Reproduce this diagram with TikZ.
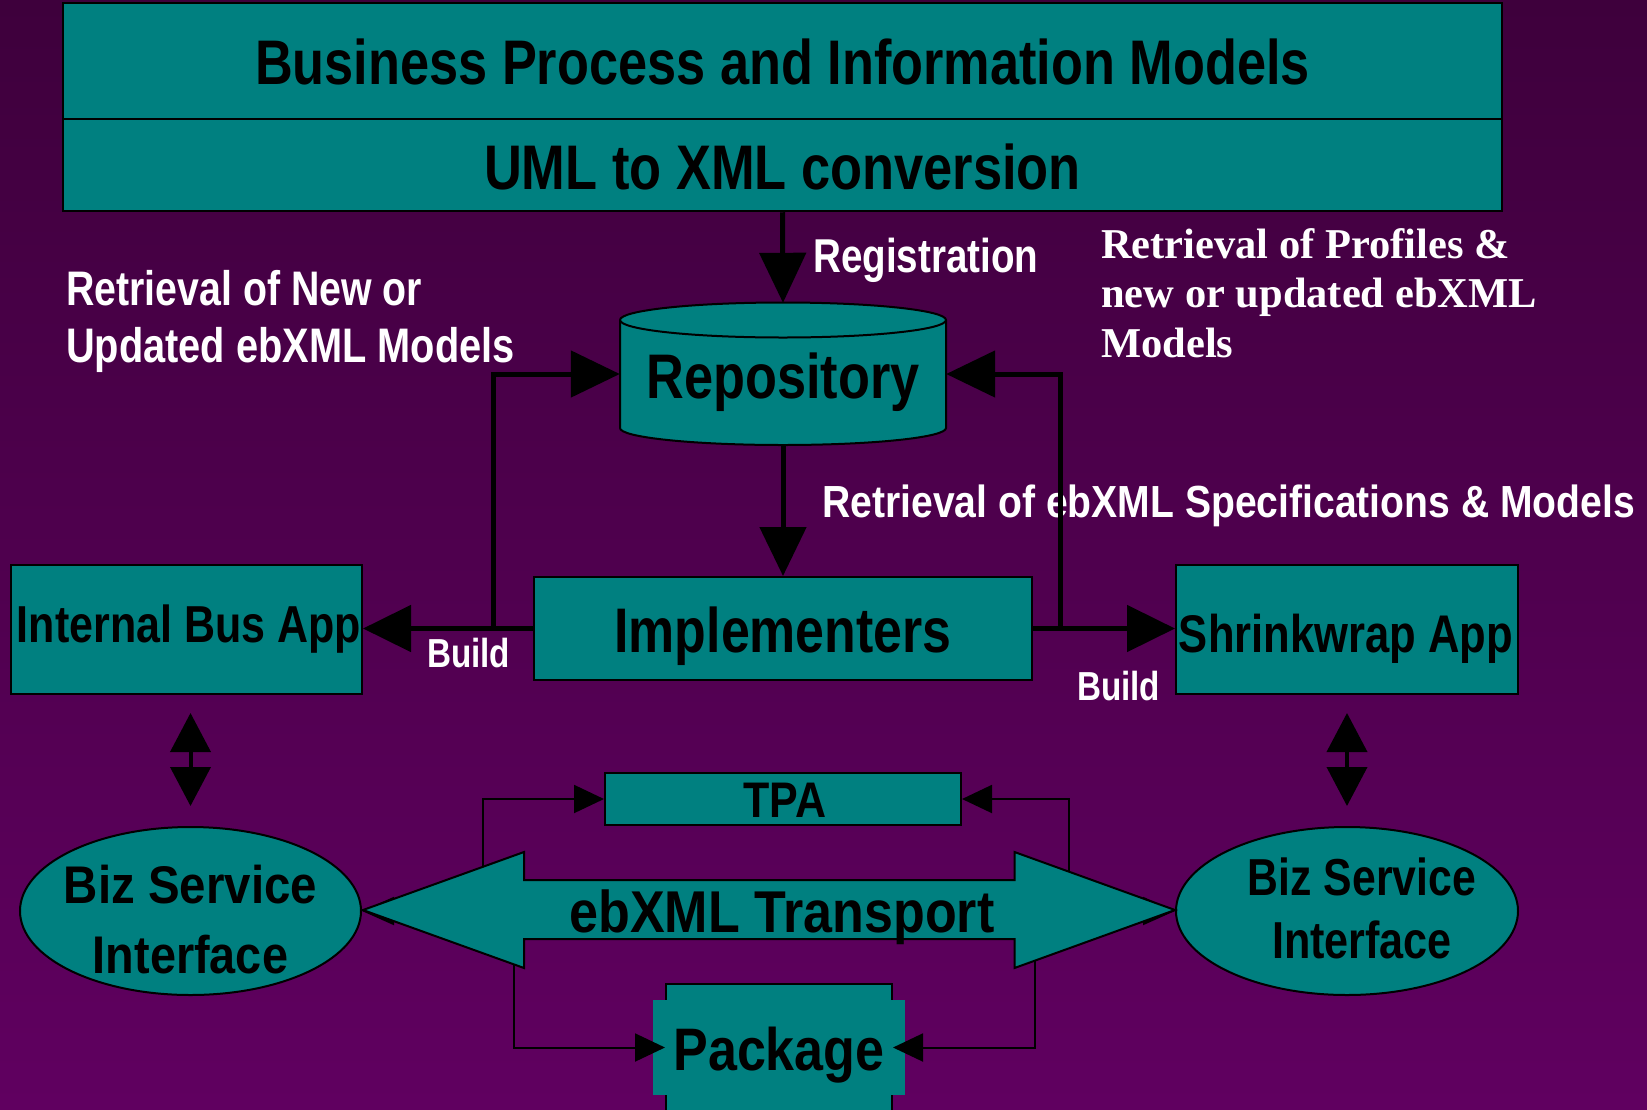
\documentclass[tikz,border=0pt]{standalone}
\usepackage{fontspec}
\setmainfont{Liberation Sans}
\newfontfamily\tms{Liberation Serif}
\usepackage{graphicx}
\usetikzlibrary{arrows.meta,shapes.geometric}
\definecolor{teal2}{RGB}{0,128,128}
\definecolor{bgtop}{RGB}{62,0,60}
\definecolor{bgbot}{RGB}{96,0,96}
% #1 x-offset of text centre, #2 baseline below node centre, #3 size, #4 horizontal scale, #5 text
\newcommand\tx[5]{\makebox[0pt]{\hspace*{#1pt}\hspace*{#1pt}\raisebox{-#2pt}[0pt][0pt]{\bfseries\fontsize{#3pt}{#3pt}\selectfont\scalebox{#4}[1]{#5}}}}
\begin{document}
\begin{tikzpicture}[x=1pt,y=-1pt,
  box/.style={draw=black, fill=teal2, line width=2pt, inner sep=0pt},
  lbl/.style={text=white, inner sep=0pt, anchor=base west, font=\bfseries},
  bigline/.style={line width=5pt, draw=black},
  thinline/.style={line width=2pt, draw=black},
  thinhead/.style={-{Triangle[width=28pt,length=30pt]}},
]
\useasboundingbox (0,0) rectangle (1647,1109);
\shade[top color=bgtop, bottom color=bgbot] (0,0) rectangle (1647,1109);

% top boxes
\node[box, line width=2.5pt, minimum width=1439pt, minimum height=116pt] (bpm) at (782.5,61) {\tx{0}{23}{63}{0.830}{Business Process and Information Models}};
\node[box, line width=2.5pt, minimum width=1439pt, minimum height=92pt] (uml) at (782.5,165) {\tx{0}{24}{63}{0.832}{UML to XML conversion}};

% repository cylinder
\filldraw[fill=teal2, draw=black, line width=2pt] (620,320) -- (620,428)
  arc[start angle=180, end angle=0, x radius=163, y radius=17] -- (946,320)
  arc[start angle=0, end angle=-180, x radius=163, y radius=17.5] -- cycle;
\draw[line width=2pt] (620,320) arc[start angle=180, end angle=0, x radius=163, y radius=17.5];
\node[inner sep=0pt, minimum width=326pt, minimum height=142pt] (repo) at (783,374) {\tx{0}{24}{63}{0.830}{Repository}};

% other boxes
\node[box, minimum width=498pt, minimum height=103pt] (impl) at (783,628.5) {\tx{0}{23.5}{63}{0.823}{Implementers}};
\node[box, minimum width=351pt, minimum height=129pt] (ibus) at (186.5,629.5) {\tx{2.5}{12.5}{52}{0.827}{Internal Bus App}};
\node[box, minimum width=342pt, minimum height=129pt] (shrink) at (1347,629.5) {\tx{-1}{22.5}{53}{0.822}{Shrinkwrap App}};
\node[box, ellipse, minimum width=341pt, minimum height=168pt] (bizL) at (190.5,911) {\makebox[0pt]{\raisebox{-62pt}[0pt][0pt]{\bfseries\fontsize{53pt}{70pt}\selectfont\begin{tabular}[b]{@{}c@{}}\scalebox{0.895}[1]{Biz Service}\\\scalebox{0.883}[1]{Interface}\end{tabular}}}};
\node[box, ellipse, minimum width=342pt, minimum height=168pt] (bizR) at (1347,911) {\makebox[0pt]{\hspace*{30pt}\raisebox{-47pt}[0pt][0pt]{\bfseries\fontsize{52pt}{63pt}\selectfont\begin{tabular}[b]{@{}c@{}}\scalebox{0.822}[1]{Biz Service}\\\scalebox{0.83}[1]{Interface}\end{tabular}}}};
\node[box, minimum width=356pt, minimum height=52pt] (tpa) at (783,799) {\tx{2}{18}{50}{0.86}{TPA}};
\node[box, minimum width=226pt, minimum height=127pt] (pkg) at (779,1047.5) {};
\fill[teal2] (653,1000) rectangle (905,1095);
\node[inner sep=0pt] (pkgt) at (779,1047.5) {\tx{0}{22.5}{60}{0.867}{Package}};

% labels
\node[lbl] (reg) at (813,272) {\fontsize{47.5pt}{47.5pt}\selectfont\scalebox{0.812}[1]{Registration}};
\node[lbl] (retL) at (66,362) {\fontsize{48.5pt}{57pt}\selectfont\begin{tabular}[b]{@{}l@{}}\scalebox{0.81}[1]{Retrieval of New or}\\\scalebox{0.82}[1]{Updated ebXML Models}\end{tabular}};
\node[lbl] (spec) at (822,517) {\fontsize{45pt}{45pt}\selectfont\scalebox{0.869}[1]{Retrieval of ebXML Specifications \& Models}};
\node[lbl] (retR) at (1101,357) {\tms\bfseries\fontsize{42.5pt}{49.5pt}\selectfont\begin{tabular}[b]{@{}l@{}}Retrieval of Profiles \&\\new or updated ebXML\\Models\end{tabular}};
\node[lbl] (bldL) at (427,667) {\fontsize{40.5pt}{40.5pt}\selectfont\scalebox{0.82}[1]{Build}};
\node[lbl] (bldR) at (1077,700) {\fontsize{40.5pt}{40.5pt}\selectfont\scalebox{0.82}[1]{Build}};

% thick connectors
\coordinate (lj) at (493,628.5);
\coordinate (rj) at (1060,628.5);
\draw[bigline, -{Triangle[width=46pt,length=50pt]}] (uml.south) -- (repo.north);
\draw[bigline, -{Triangle[width=46pt,length=49pt]}] (repo.south) -- (impl.north);
\draw[bigline, -{Triangle[width=46pt,length=48pt]}] (impl.west) -- (impl.west -| ibus.east);
\draw[bigline, -{Triangle[width=46pt,length=48pt]}] (impl.east) -- (impl.east -| shrink.west);
\draw[bigline, -{Triangle[width=46pt,length=49pt]}] (lj) |- (repo.west);
\draw[bigline, -{Triangle[width=46pt,length=49pt]}] (rj) |- (repo.east);

% double vertical arrows
\draw[line width=4pt, {Triangle[width=40pt,length=39pt]}-{Triangle[width=40pt,length=39pt]}, shorten <=18pt, shorten >=20pt] (bizL.north |- ibus.south) -- (bizL.north);
\draw[line width=4pt, {Triangle[width=40pt,length=39pt]}-{Triangle[width=40pt,length=39pt]}, shorten <=18pt, shorten >=20pt] (bizR.north |- shrink.south) -- (bizR.north);

% thin connectors
\coordinate (tl) at (483,905);
\coordinate (tr) at (1069,905);
\coordinate (pl) at (514,930);
\coordinate (pr) at (1035,930);
\draw[thinline, thinhead] (tl) |- (tpa.west);
\draw[thinline, thinhead] (tr) |- (tpa.east);
\draw[thinline, thinhead] (pl) |- (pkg.west);
\draw[thinline, thinhead] (pr) |- (pkg.east);
\draw[thinline, {Triangle[width=28pt,length=32pt]}-{Triangle[width=28pt,length=32pt]}] (bizL.east) -- (bizR.west);

% ebXML transport double arrow
\filldraw[fill=teal2, draw=black, line width=2pt] (363,910) -- (524,852) -- (524,880) -- (1014.5,880) -- (1014.5,852) -- (1175,910) -- (1014.5,968) -- (1014.5,939) -- (524,939) -- (524,968) -- cycle;
\node[inner sep=0pt] (transport) at (782,910) {\tx{0}{22}{59}{0.882}{ebXML Transport}};
\end{tikzpicture}
\end{document}
